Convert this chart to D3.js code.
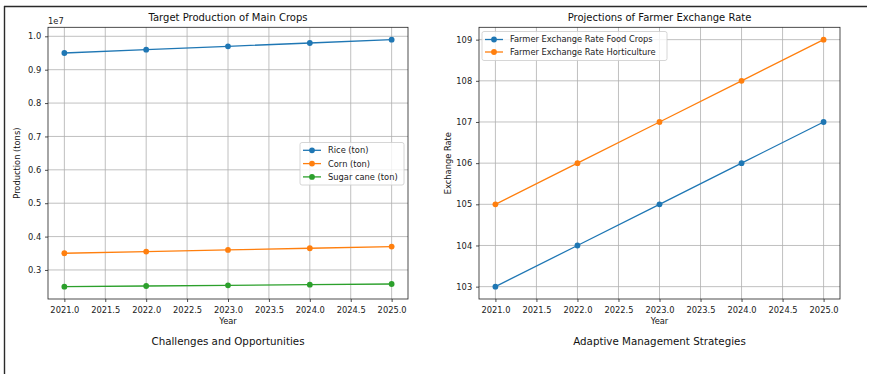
<!DOCTYPE html>
<html>
<head>
<meta charset="utf-8">
<script src="https://cdn.jsdelivr.net/npm/d3@7"></script>
<style>
  html, body { margin: 0; padding: 0; background: #fff; }
  svg { display: block; font-family: "DejaVu Sans", sans-serif; }
</style>
</head>
<body>
<svg id="fig" width="869" height="374"></svg>
<script>
// ---- data ----
const years = [2021, 2022, 2023, 2024, 2025];
const rice = [9500000, 9600000, 9700000, 9800000, 9900000];
const corn = [3500000, 3550000, 3600000, 3650000, 3700000];
const sugarCane = [2500000, 2520000, 2540000, 2560000, 2580000];
const ntpFoodCrops = [103, 104, 105, 106, 107];
const ntpHorticulture = [105, 106, 107, 108, 109];

const xTicks = [2021.0, 2021.5, 2022.0, 2022.5, 2023.0, 2023.5, 2024.0, 2024.5, 2025.0];
const cropTicks = [0.3, 0.4, 0.5, 0.6, 0.7, 0.8, 0.9, 1.0];   // in units of 1e7
const rateTicks = [103, 104, 105, 106, 107, 108, 109];

const C_BLUE = "#1f77b4", C_ORANGE = "#ff7f0e", C_GREEN = "#2ca02c";

const svg = d3.select("#fig");

// frame lines
svg.append("line").attr("x1", 4).attr("x2", 867).attr("y1", 6.5).attr("y2", 6.5)
  .attr("stroke", "#2a2a2a").attr("stroke-width", 1.4);
svg.append("line").attr("x1", 4.5).attr("x2", 4.5).attr("y1", 6).attr("y2", 374)
  .attr("stroke", "#2a2a2a").attr("stroke-width", 1.4);

function padDomain(vals) {
  const lo = d3.min(vals), hi = d3.max(vals), m = (hi - lo) * 0.05;
  return [lo - m, hi + m];
}

function panel(opt) {
  const g = svg.append("g");
  const x = d3.scaleLinear().domain(padDomain(years)).range([opt.left, opt.right]);
  const y = d3.scaleLinear().domain(padDomain(opt.series.flatMap(s => s.values))).range([opt.bottom, opt.top]);

  // grid
  g.append("g").selectAll("line").data(xTicks).join("line")
    .attr("x1", d => x(d)).attr("x2", d => x(d)).attr("y1", opt.top).attr("y2", opt.bottom)
    .attr("stroke", "#b0b0b0").attr("stroke-width", 0.8);
  g.append("g").selectAll("line").data(opt.yTicks).join("line")
    .attr("x1", opt.left).attr("x2", opt.right)
    .attr("y1", d => y(d * opt.yMul)).attr("y2", d => y(d * opt.yMul))
    .attr("stroke", "#b0b0b0").attr("stroke-width", 0.8);

  // series
  opt.series.forEach(s => {
    const pts = years.map((yr, i) => [yr, s.values[i]]);
    g.append("path").datum(pts)
      .attr("fill", "none").attr("stroke", s.color).attr("stroke-width", 1.3)
      .attr("d", d3.line().x(d => x(d[0])).y(d => y(d[1])));
    g.append("g").selectAll("circle").data(pts).join("circle")
      .attr("cx", d => x(d[0])).attr("cy", d => y(d[1])).attr("r", 2.9)
      .attr("fill", s.color);
  });

  // axes
  const xAxis = d3.axisBottom(x).tickValues(xTicks).tickFormat(d3.format(".1f")).tickSize(3).tickSizeOuter(0);
  const yAxis = d3.axisLeft(y).tickValues(opt.yTicks.map(v => v * opt.yMul))
    .tickFormat(v => opt.yFmt(v / opt.yMul)).tickSize(3).tickSizeOuter(0);
  const gx = g.append("g").attr("transform", `translate(0,${opt.bottom})`).call(xAxis);
  const gy = g.append("g").attr("transform", `translate(${opt.left},0)`).call(yAxis);
  [gx, gy].forEach(a => {
    a.select(".domain").remove();
    a.selectAll("line").attr("stroke", "#222").attr("stroke-width", 0.8);
    a.selectAll("text").attr("fill", "#222").style("font-size", "8.3px").style("font-family", "DejaVu Sans");
  });
  gx.selectAll("text").attr("dy", "0.95em");
  gy.selectAll("text").attr("dx", "-0.1em");

  // spines
  g.append("rect").attr("x", opt.left).attr("y", opt.top)
    .attr("width", opt.right - opt.left).attr("height", opt.bottom - opt.top)
    .attr("fill", "none").attr("stroke", "#222").attr("stroke-width", 0.8);

  const cx = (opt.left + opt.right) / 2;
  g.append("text").attr("x", cx).attr("y", opt.top - 6).attr("text-anchor", "middle")
    .style("font-size", "10px").attr("fill", "#111").text(opt.title);
  g.append("text").attr("x", cx).attr("y", opt.bottom + 25).attr("text-anchor", "middle")
    .style("font-size", "8.3px").attr("fill", "#111").text("Year");
  g.append("text").attr("transform", `translate(${opt.yLabelX},${(opt.top + opt.bottom) / 2}) rotate(-90)`)
    .attr("text-anchor", "middle").style("font-size", "8.3px").attr("fill", "#111").text(opt.yLabel);
  g.append("text").attr("x", cx).attr("y", 344.5).attr("text-anchor", "middle")
    .style("font-size", "10.3px").attr("fill", "#111").text(opt.caption);
  if (opt.offset) {
    g.append("text").attr("x", opt.left).attr("y", opt.top - 3)
      .style("font-size", "8.3px").attr("fill", "#222").text(opt.offset);
  }

  // legend
  const L = opt.legend;
  g.append("rect").attr("x", L.x).attr("y", L.y).attr("width", L.w).attr("height", L.h)
    .attr("rx", 2).attr("fill", "rgba(255,255,255,0.8)").attr("stroke", "#cccccc").attr("stroke-width", 0.8);
  opt.series.forEach((s, i) => {
    const yy = L.y + L.first + i * L.step;
    g.append("line").attr("x1", L.x + 3).attr("x2", L.x + 21).attr("y1", yy).attr("y2", yy)
      .attr("stroke", s.color).attr("stroke-width", 1.3);
    g.append("circle").attr("cx", L.x + 12).attr("cy", yy).attr("r", 2.9).attr("fill", s.color);
    g.append("text").attr("x", L.x + 28).attr("y", yy).attr("dy", "0.35em")
      .style("font-size", "8.3px").attr("fill", "#222").text(s.name);
  });
}

panel({
  left: 48, right: 408, top: 27.3, bottom: 299,
  series: [
    { name: "Rice (ton)", values: rice, color: C_BLUE },
    { name: "Corn (ton)", values: corn, color: C_ORANGE },
    { name: "Sugar cane (ton)", values: sugarCane, color: C_GREEN }
  ],
  yTicks: cropTicks, yMul: 1e7, yFmt: d3.format(".1f"),
  title: "Target Production of Main Crops",
  yLabel: "Production (tons)", yLabelX: 20,
  caption: "Challenges and Opportunities",
  offset: "1e7",
  legend: { x: 300, y: 142.5, w: 104, h: 42.5, first: 7.8, step: 13.3 }
});

panel({
  left: 479, right: 840, top: 27.3, bottom: 299,
  series: [
    { name: "Farmer Exchange Rate Food Crops", values: ntpFoodCrops, color: C_BLUE },
    { name: "Farmer Exchange Rate Horticulture", values: ntpHorticulture, color: C_ORANGE }
  ],
  yTicks: rateTicks, yMul: 1, yFmt: d3.format("d"),
  title: "Projections of Farmer Exchange Rate",
  yLabel: "Exchange Rate", yLabelX: 451,
  caption: "Adaptive Management Strategies",
  legend: { x: 482, y: 31.5, w: 185, h: 29, first: 8, step: 12.5 }
});
</script>
</body>
</html>
